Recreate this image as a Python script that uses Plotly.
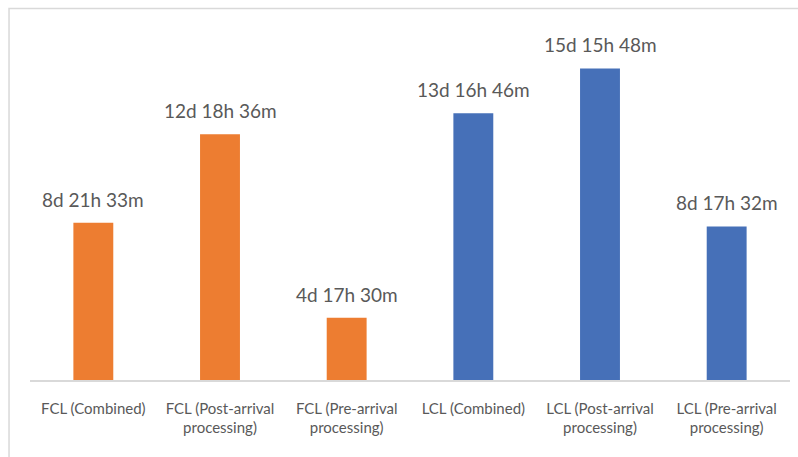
import plotly.graph_objects as go

# Average dwell times per shipment type
categories = [
    "FCL (Combined)",
    "FCL (Post-arrival<br>processing)",
    "FCL (Pre-arrival<br>processing)",
    "LCL (Combined)",
    "LCL (Post-arrival<br>processing)",
    "LCL (Pre-arrival<br>processing)",
]
days = [8, 12, 4, 13, 15, 8]
hours = [21, 18, 17, 16, 15, 17]
minutes = [33, 36, 30, 46, 48, 32]
bar_colors = ["#ED7D31", "#ED7D31", "#ED7D31", "#4670B8", "#4670B8", "#4670B8"]

values = [d + h / 24 + m / 1440 for d, h, m in zip(days, hours, minutes)]
labels = [f"{d}d {h}h {m}m" for d, h, m in zip(days, hours, minutes)]

W, H = 798, 457
left, right, top, bottom = 29.5, 7.5, 15, 77

fig = go.Figure(
    go.Bar(
        x=categories,
        y=values,
        marker=dict(color=bar_colors, line=dict(width=0)),
        width=0.315,
        hoverinfo="skip",
    )
)

# value labels above the bars
for c, v, t in zip(categories, values, labels):
    fig.add_annotation(
        x=c, y=v, text=t, showarrow=False, yanchor="bottom", yshift=10,
        font=dict(family="Lato", size=19, color="#595959"),
    )

plot_w = W - left - right
plot_h = H - top - bottom
# chart-area frame (top and left edges visible)
fig.add_shape(
    type="rect", xref="paper", yref="paper",
    x0=(8.5 - left) / plot_w, x1=(W + 20 - left) / plot_w,
    y0=-(H + 20 - top - plot_h) / plot_h, y1=(plot_h + top - 8.5) / plot_h,
    line=dict(color="#D9D9D9", width=1.5), fillcolor="rgba(0,0,0,0)", layer="below",
)

fig.update_layout(
    width=W, height=H,
    margin=dict(l=left, r=right, t=top, b=bottom, pad=0),
    paper_bgcolor="white", plot_bgcolor="white",
    showlegend=False,
    xaxis=dict(
        showline=True, linecolor="#D9D9D9", linewidth=1.5,
        ticks="", showgrid=False, zeroline=False,
        ticklabelstandoff=14,
        tickfont=dict(family="Lato", size=15, color="#595959"),
    ),
    yaxis=dict(
        range=[2, 18], showticklabels=False, showgrid=False,
        zeroline=False, showline=False, ticks="",
    ),
)

fig.write_html("out.html")
